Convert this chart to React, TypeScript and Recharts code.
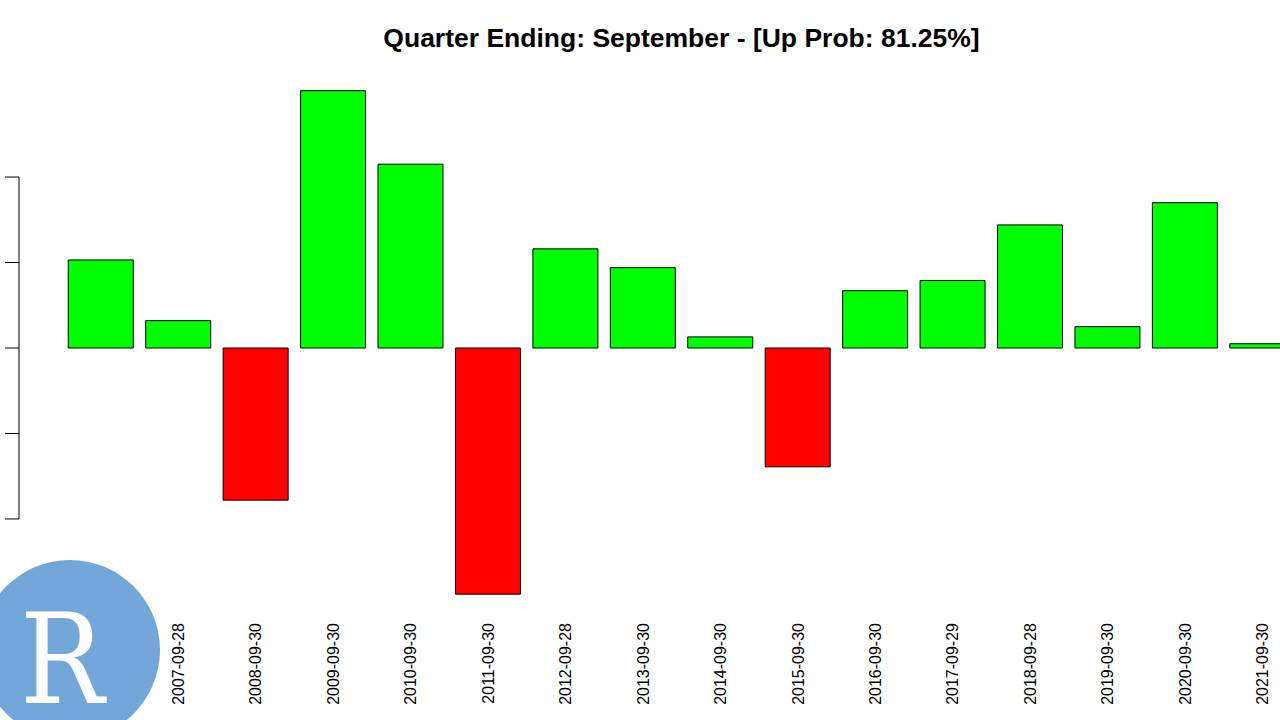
import { Bar, BarChart, Cell, ReferenceLine, XAxis, YAxis } from "recharts";

// quarter-end dates and the quarter's % change
const quarterEnds = [
  "2006-09-29",
  "2007-09-28",
  "2008-09-30",
  "2009-09-30",
  "2010-09-30",
  "2011-09-30",
  "2012-09-28",
  "2013-09-30",
  "2014-09-30",
  "2015-09-30",
  "2016-09-30",
  "2017-09-29",
  "2018-09-28",
  "2019-09-30",
  "2020-09-30",
  "2021-09-30",
];
const quarterReturns = [
  10.3, 3.2, -17.8, 30.1, 21.5, -28.8, 11.6, 9.4, 1.3, -13.9, 6.7, 7.9, 14.4,
  2.5, 17.0, 0.5,
];
const yTicks = [-20, -10, 0, 10, 20];

const data = quarterEnds.map((date, i) => ({ date, ret: quarterReturns[i] }));
const upProb = (quarterReturns.filter((r) => r > 0).length / quarterReturns.length) * 100;

const FONT = '"Liberation Sans", Arial, Helvetica, sans-serif';

function DateTick({ x, y, payload }: any) {
  return (
    <text
      transform={`translate(${x},${y + 1}) rotate(-90)`}
      textAnchor="end"
      dy="0.35em"
      fontFamily={FONT}
      fontSize={16}
      fill="#000"
    >
      {payload.value}
    </text>
  );
}

function NoLabel() {
  return <g />;
}

export default function App() {
  return (
    <div
      style={{
        position: "fixed",
        left: 0,
        top: 0,
        width: 1280,
        height: 720,
        overflow: "hidden",
        background: "#fff",
      }}
    >
      <BarChart
        width={1310}
        height={720}
        data={data}
        margin={{ top: 83, right: 8.75, bottom: 0, left: 0 }}
      >
        <XAxis
          dataKey="date"
          interval={0}
          height={107}
          axisLine={false}
          tickLine={false}
          tickMargin={3}
          padding={{ left: 43.25, right: 0 }}
          tick={<DateTick />}
        />
        <XAxis xAxisId="edge" type="number" domain={[0, 1]} hide />
        <YAxis
          width={19}
          domain={[-31, 31]}
          ticks={yTicks}
          axisLine={false}
          tickSize={14}
          tickLine={{ stroke: "#000", strokeWidth: 1 }}
          tick={<NoLabel />}
        />
        <ReferenceLine
          xAxisId="edge"
          segment={[
            { x: 0, y: yTicks[0] },
            { x: 0, y: yTicks[yTicks.length - 1] },
          ]}
          stroke="#000"
          strokeWidth={1}
        />
        <Bar
          dataKey="ret"
          barSize={65}
          stroke="#000"
          strokeWidth={1}
          isAnimationActive={false}
        >
          {data.map((d) => (
            <Cell key={d.date} fill={d.ret >= 0 ? "#00ff00" : "#ff0000"} />
          ))}
        </Bar>
      </BarChart>

      <svg
        width={1280}
        height={720}
        style={{ position: "absolute", left: 0, top: 0, pointerEvents: "none" }}
      >
        <text
          x={681.5}
          y={47}
          textAnchor="middle"
          fontFamily={FONT}
          fontWeight="bold"
          fontSize={26.5}
          fill="#000"
        >
          {`Quarter Ending: September - [Up Prob: ${upProb.toFixed(2)}%]`}
        </text>
        <circle cx={70} cy={650} r={90} fill="#74a7d9" />
        <text
          x={20}
          y={703}
          fontFamily='"DejaVu Serif", serif'
          fontSize={126}
          textLength={84}
          lengthAdjust="spacingAndGlyphs"
          fill="#fff"
        >
          R
        </text>
      </svg>
    </div>
  );
}
